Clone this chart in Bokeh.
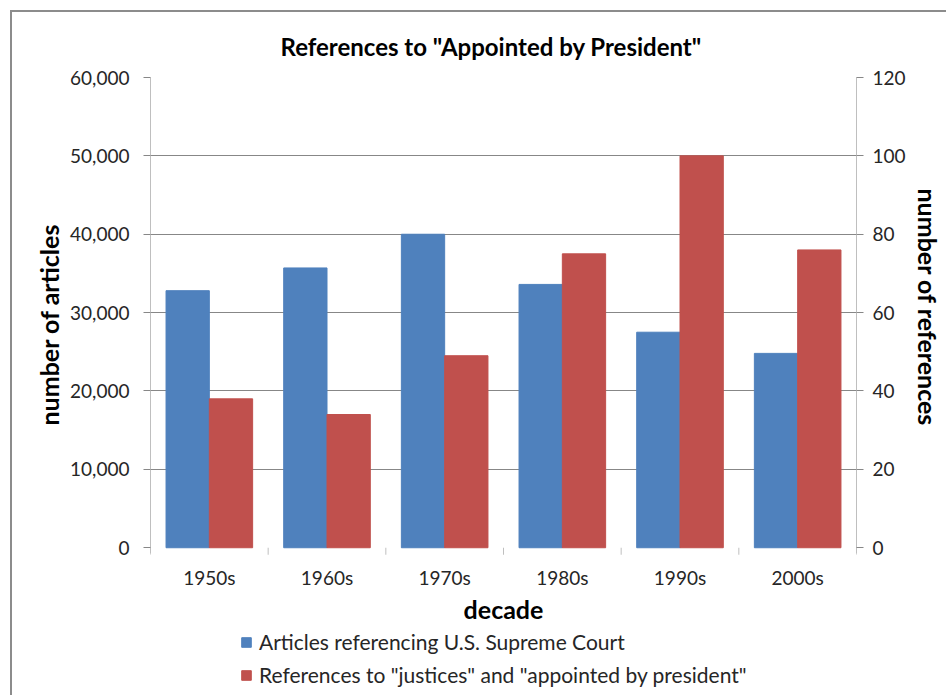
import math
from bokeh.plotting import figure
from bokeh.models import (Range1d, LinearAxis, FixedTicker, NumeralTickFormatter,
                          ColumnDataSource, Legend, LegendItem, Title)
from bokeh.core.properties import value
from bokeh.transform import dodge
from bokeh.embed import file_html
from bokeh.resources import INLINE

# Decades and the two series
decades = ["1950s", "1960s", "1970s", "1980s", "1990s", "2000s"]
articles = [32800, 35700, 40000, 33600, 27500, 24800]
references = [38, 34, 49, 75, 100, 76]

left_ticks = [0, 10000, 20000, 30000, 40000, 50000, 60000]
right_ticks = [0, 20, 40, 60, 80, 100, 120]

FONT = "Lato"
BLUE = "#4F81BD"
RED = "#C0504D"
TEXT = "#262626"
GRID = "#878787"
AXIS = "#BFBFBF"
EDGE = "#8C8C8C"

# canvas geometry: the plot frame runs down to the canvas bottom so that the
# category labels and the legend can sit inside it, under the zero line
CANVAS_W, CANVAS_H = 936, 685
FRAME_TOP, ZERO_Y = 64, 535
below = (CANVAS_H - ZERO_Y) / (ZERO_Y - FRAME_TOP)
left_max, right_max = left_ticks[-1], right_ticks[-1]

pos = [i + 0.5 for i in range(len(decades))]
bounds = list(range(len(decades) + 1))
src = ColumnDataSource(dict(pos=pos, decade=decades, articles=articles, references=references))

p = figure(width=CANVAS_W, height=CANVAS_H, output_backend="svg", toolbar_location=None,
           x_range=Range1d(0, len(decades)), y_range=Range1d(-below * left_max, left_max),
           min_border_left=138, min_border_right=88, min_border_top=FRAME_TOP, min_border_bottom=0,
           x_axis_location=None, y_axis_location=None, tools="")
p.extra_y_ranges = {"refs": Range1d(-below * right_max, right_max)}
p.outline_line_color = None
p.background_fill_color = "white"
p.border_fill_color = "white"
# chart-area edge on the left and top
p.margin = (10, 0, 0, 10)
p.styles = {"border-left": f"2px solid {EDGE}", "border-top": f"2px solid {EDGE}"}

p.title.text = 'References to "Appointed by President"'
p.title.align = "left"
p.title.offset = 130
p.title.text_font = FONT
p.title.text_font_size = "24px"
p.title.text_font_style = "bold"
p.title.text_color = "black"
p.title.standoff = 34

p.xgrid.visible = False
p.ygrid.ticker = FixedTicker(ticks=left_ticks[1:])
p.ygrid.grid_line_color = GRID
p.ygrid.grid_line_width = 1

bar_w = 0.368
blue = p.vbar(x=dodge("pos", -bar_w / 2), top="articles", bottom=0, width=bar_w, source=src,
              fill_color=BLUE, line_color=BLUE)
red = p.vbar(x=dodge("pos", bar_w / 2), top="references", bottom=0, width=bar_w, source=src,
             fill_color=RED, line_color=RED, y_range_name="refs")

def style_axis(ax):
    ax.major_label_text_font = FONT
    ax.major_label_text_font_size = "19px"
    ax.major_label_text_color = TEXT
    ax.axis_line_color = AXIS
    ax.major_tick_line_color = GRID
    ax.major_tick_in = 0
    ax.major_tick_out = 7
    ax.minor_tick_line_color = None

def axis_title(text, offset):
    t = Title(text=text, align="left", offset=offset, standoff=8)
    t.text_font = FONT
    t.text_font_size = "25px"
    t.text_font_style = "bold"
    t.text_color = "black"
    return t

# left: article counts
yl = LinearAxis(ticker=FixedTicker(ticks=left_ticks), formatter=NumeralTickFormatter(format="0,0"),
                bounds=(-0.013 * left_max, left_max))
style_axis(yl)
yl.major_label_standoff = 14
p.add_layout(yl, "left")
p.add_layout(axis_title("number of articles", 272), "left")

# right: reference counts
yr = LinearAxis(y_range_name="refs", ticker=FixedTicker(ticks=right_ticks),
                bounds=(-0.013 * right_max, right_max))
style_axis(yr)
yr.major_label_standoff = 9
p.add_layout(yr, "right")
p.add_layout(axis_title("number of references", 111), "right")

# category axis under the zero line: boundary ticks, decade labels, title
p.ray(x=bounds, y=[0] * len(bounds), length=7, length_units="screen", angle=-math.pi / 2,
      line_color=AXIS, line_width=1)
p.text(x="pos", y=0, text="decade", source=src, y_offset=30,
       text_align="center", text_baseline="alphabetic",
       text_font=value(FONT), text_font_size="19px", text_color=TEXT)
p.text(x=[len(decades) / 2], y=[0], text=["decade"], y_offset=61,
       text_align="center", text_baseline="alphabetic",
       text_font=value(FONT), text_font_size="25px", text_font_style="bold", text_color="black")

legend = Legend(items=[
    LegendItem(label="Articles referencing U.S. Supreme Court", renderers=[blue]),
    LegendItem(label='References to "justices" and "appointed by president"', renderers=[red]),
], location=(90, 10), orientation="vertical")
legend.label_text_font = FONT
legend.label_text_font_size = "21px"
legend.label_text_color = TEXT
legend.glyph_width = 12
legend.glyph_height = 12
legend.label_height = 25
legend.label_standoff = 7
legend.spacing = 8
legend.padding = 0
legend.margin = 0
legend.border_line_color = None
legend.background_fill_alpha = 0
p.add_layout(legend, "center")

open("out.html", "w").write(file_html(p, INLINE))
